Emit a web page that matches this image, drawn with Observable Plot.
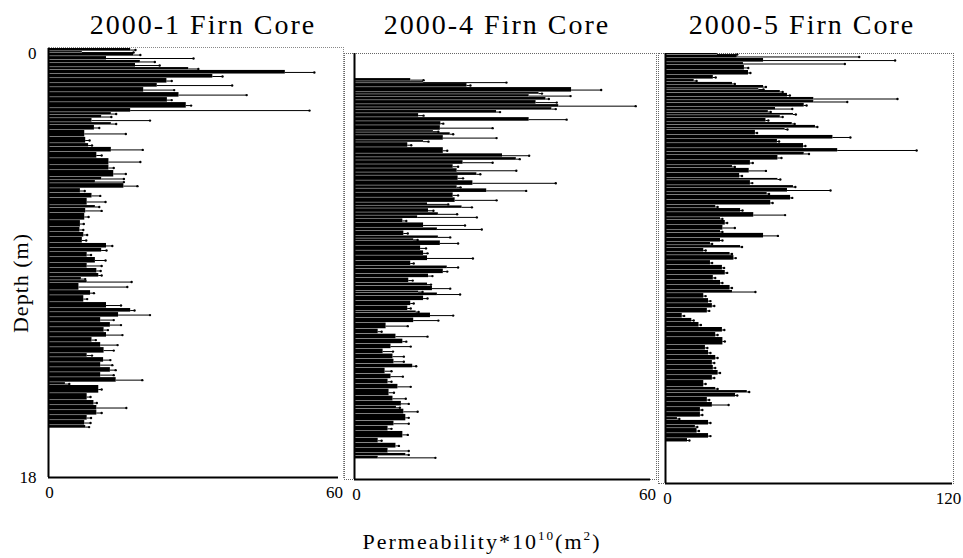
<!DOCTYPE html>
<html><head><meta charset="utf-8">
<script src="https://cdn.jsdelivr.net/npm/d3@7"></script>
<script src="https://cdn.jsdelivr.net/npm/@observablehq/plot@0.6"></script>
<style>
body{margin:0;background:#fff;}
#chart{position:relative;width:963px;height:558px;overflow:hidden;font-family:"Liberation Serif","Times New Roman",serif;color:#000;background:#fff;}
#chart svg{position:absolute;left:0;top:0;}
.t{position:absolute;white-space:nowrap;line-height:1;}
.frame{position:absolute;border:1px dotted #666;box-sizing:border-box;}
</style></head><body><div id="chart"></div>
<script>
// ---- Core titles / axis text ----
const titles = ["2000-1 Firn Core", "2000-4 Firn Core", "2000-5 Firn Core"];
const xMaxes = [60, 60, 120];
const depthTicks = [0, 18];

// ---- 2000-1 core: bar top depth (m), permeability, error-bar end ----
const core1Depth = [0,0.13,0.21,0.34,0.5,0.63,0.8,0.92,1.09,1.26,1.47,1.64,1.85,2.06,2.27,2.52,2.69,2.81,2.94,3.11,3.23,3.44,3.73,3.99,4.15,4.36,4.62,4.91,5.12,5.41,5.54,5.67,5.88,6.08,6.29,6.59,6.71,6.92,7.22,7.51,7.72,7.93,8.18,8.39,8.56,8.77,9.02,9.23,9.44,9.61,9.74,9.86,10.16,10.37,10.66,10.91,11.08,11.29,11.5,11.71,11.92,12.13,12.34,12.55,12.8,12.97,13.18,13.39,13.6,13.81,14.02,14.14,14.48,14.77,14.98,15.19,15.4,15.61,15.82];
const core1Bottom = 15.95;
const core1Perm = [17,7,17.6,12,19,18,29,49,34,24.5,22.5,19.7,27,24.6,28.5,17,13,11,9,13,9.5,7.5,7.7,8.3,13,10,12.5,12.5,13.5,11,9.7,15.6,6.6,9,8,9.7,7.7,7.5,6.6,6.5,7.3,7,12,11,8,9.7,8,10,10.4,6.8,8,6.3,8.7,7.3,12,17,14.5,10.8,12.8,11.5,12,9,10.8,11.5,8,11.4,10.8,12.8,10.8,14,3.5,10.4,8,9.4,10,10,8,7.5,7.7];
const core1Err = [18,17.6,19,30,22,23,31,55,36,25.5,38,26,41,25.5,29.5,54,14,13,21,14,10.5,16,8.5,9,19.5,11,19,13.5,16,15.6,15.6,18.4,7.5,10.7,11.8,10.5,11,8.3,7.3,7.2,8,7.8,13.2,12,8.8,11.8,11,10.8,11,7.6,17.2,16.3,9.4,8,15,17.8,21,13.5,15,12.3,15.3,9.8,14.3,13.5,9,12.8,13.2,13.9,13.5,19.4,4.3,11,8.7,10,16.1,11,8.8,8.7,8.4];

// ---- 2000-4 core ----
const core4Depth = [1.06,1.19,1.27,1.44,1.65,1.74,1.86,1.99,2.16,2.29,2.41,2.54,2.71,2.88,3.05,3.26,3.35,3.47,3.68,3.77,3.98,4.24,4.40,4.53,4.70,4.87,5.04,5.17,5.38,5.59,5.72,5.89,6.10,6.31,6.44,6.56,6.73,6.86,6.99,7.16,7.37,7.50,7.71,7.83,7.92,8.13,8.34,8.55,8.77,8.98,9.11,9.32,9.49,9.70,9.83,10.04,10.12,10.25,10.46,10.67,10.88,10.97,11.18,11.39,11.65,11.86,12.07,12.28,12.49,12.70,12.92,13.13,13.30,13.55,13.76,13.98,14.19,14.48,14.70,14.91,15.03,15.25,15.54,15.75,15.97,16.26,16.47,16.69,16.90,17.02];
const core4Bottom = 17.15;
const core4Perm = [11.4,14,22.8,44,37.4,35.4,38.8,36.8,41.4,40,28.8,13,35.4,17.5,17.4,16,19.4,18,14,10.8,18,30,32.8,22,20,20.8,24.8,21,24,20.8,26.8,20,20.4,14.8,21.8,15,17,12.8,9.8,14,16.8,10,17,12,17.4,13.4,14,14.8,11.4,18.8,18,15,11,14.8,15.8,13,16.8,14,11.4,10.8,12.5,15.4,12,6.4,4.8,8.4,9.8,7.4,5.8,7.8,8,11.8,6.2,7.4,6.8,8.8,7,7.8,9.5,8.5,10,10.4,8,6.8,9.8,4.8,8.4,6.8,10.4,4.8];
const core4Err = [14,30.8,23.5,50,38,43.8,39.4,41,57,40.8,29.5,14,43,18,28,17,20,28.8,15,11.5,18.8,35.4,33.5,28,21,32.8,25.5,22,40.8,21.5,34.8,21,28.8,19,23.8,16,20.8,24.8,10.5,22.4,25.8,10.8,19.4,12.8,21,14.5,14.8,24,12,21,18.8,15.8,11.8,15.5,19.4,13.8,21.4,14.8,12,11.4,13,20,17,10.8,5.5,14.8,10.5,11.4,7.8,10,10,12.5,7.5,9.8,7.5,11.4,8,10.4,11,9.2,12.8,11,11,7.5,10.8,5.5,9,11,11,16.4];

// ---- 2000-5 core ----
const core5Depth = [0,0.08,0.21,0.38,0.5,0.71,0.92,1.09,1.21,1.34,1.47,1.55,1.67,1.84,1.97,2.09,2.26,2.39,2.51,2.6,2.72,2.89,3.01,3.14,3.22,3.43,3.6,3.77,3.98,4.14,4.27,4.48,4.69,4.81,5.02,5.23,5.32,5.53,5.65,5.82,5.94,6.15,6.36,6.49,6.66,6.87,6.99,7.2,7.41,7.53,7.74,7.91,8.04,8.16,8.33,8.46,8.67,8.87,9.08,9.29,9.5,9.71,9.92,10.05,10.26,10.47,10.67,10.88,11.09,11.26,11.47,11.68,11.89,12.22,12.43,12.64,12.85,13.06,13.27,13.48,13.69,13.98,14.11,14.23,14.4,14.61,14.82,15.03,15.24,15.36,15.57,15.7,15.91,16.12];
const core5Bottom = 16.28;
const core5Perm = [21.7,30,41,32.6,33,34.7,20,12,28,41,39,48,51,62,62,58,46,43,53.5,48,42,53,62.7,50,37.6,70,46.8,57.7,72,58,47,35.5,28,35,31,47,35.5,53.5,51,42.5,52.3,44,21,31.4,36.9,23,25,24,23,41,23,18.8,31.4,16,27,28.6,18.8,23.8,25,20,23,27,28,16,18,19.6,17.5,7,11,14,23.8,21,24,16.7,18,21,19.6,20,22,19.6,16,21,34.2,29.3,17.5,19.6,14.6,14.6,5,18,12.5,13.2,18,9.2];
const core5Err = [30,81,96,75,34.6,35.5,21,13,29,42,41,49,52,97,76,59,53,44,54.5,49,43,54,63.5,51,38.3,77.3,47.5,58.5,105,60,48.5,36.5,29,42,32,48,36.3,54.3,69,43.3,53,44.8,21.8,32.2,50,23.8,25.8,29,23.8,47,23.8,19.5,32,16.8,27.8,29.4,19.5,24.5,25.8,20.8,23.8,27.8,37.6,16.8,18.8,20.4,18.3,7.8,11.8,14.8,24.6,21.8,24.8,17.5,18.8,21.8,20.4,20.8,22.8,20.4,16.8,21.8,35,30,18.3,26.4,15.4,15.4,5.8,18.8,13.3,14,18.8,10];

const FONT = '"Liberation Serif","Times New Roman",serif';
const W = 963, H = 558;
const TICK_FS = 17;

function rowsOf(depth, perm, err, bottom) {
  return depth.map((d, i) => ({
    d0: d, d1: i + 1 < depth.length ? depth[i + 1] : bottom, v: perm[i], e: err[i]
  }));
}

function panel(rows, xMax, m, showY, dx0, dxMax) {
  const marks = [
    Plot.rect(rows, {x1: d => 0, x2: "v", y1: "d0", y2: "d1", fill: "#000", insetBottom: 0.45}),
    Plot.ruleY(rows, {y: d => (d.d0 + d.d1) / 2, x1: "v", x2: "e", stroke: "#000", strokeWidth: 1}),
    Plot.dot(rows, {x: "e", y: d => (d.d0 + d.d1) / 2, r: 1.2, fill: "#000", stroke: "none"}),
    Plot.ruleX([0], {y1: 0, y2: 18, stroke: "#000", strokeWidth: 2}),
    Plot.ruleY([18], {stroke: "#000", strokeWidth: 2}),
    Plot.axisX({ticks: [0], tickSize: 0, tickPadding: 8, dx: dx0, fontSize: TICK_FS, tickFormat: d => String(d), label: null}),
    Plot.axisX({ticks: [xMax], tickSize: 0, tickPadding: 8, dx: dxMax, fontSize: TICK_FS, tickFormat: d => String(d), label: null})
  ];
  if (showY) {
    marks.push(Plot.axisY({ticks: [depthTicks[0]], tickSize: 0, tickPadding: 12, dy: 5, fontSize: TICK_FS, tickFormat: d => String(d), label: null}));
    marks.push(Plot.axisY({ticks: [depthTicks[1]], tickSize: 0, tickPadding: 12, fontSize: TICK_FS, tickFormat: d => String(d), label: null}));
  }
  return Plot.plot({
    width: W, height: H,
    marginLeft: m.l, marginRight: m.r, marginTop: m.t, marginBottom: m.b,
    style: {background: "transparent", fontFamily: FONT, fontSize: TICK_FS + "px", color: "#000", overflow: "visible"},
    x: {domain: [0, xMax]},
    y: showY ? {domain: [0, 18], reverse: true} : {domain: [0, 18], reverse: true, axis: null},
    marks
  });
}

const chart = document.getElementById("chart");

function addFrame(l, t, w, h, extra) {
  const f = document.createElement("div");
  f.className = "frame";
  Object.assign(f.style, {left: l + "px", top: t + "px", width: w + "px", height: h + "px"}, extra || {});
  chart.appendChild(f);
}
addFrame(48, 47, 296, 431, {borderLeft: "none", borderBottom: "none", borderColor: "#888"});
addFrame(344, 53, 313, 427);
addFrame(658, 53, 296, 431);

chart.appendChild(panel(rowsOf(core1Depth, core1Perm, core1Err, core1Bottom), xMaxes[0], {l: 48, r: W - 338, t: 48, b: H - 477}, true, 1, -4));
chart.appendChild(panel(rowsOf(core4Depth, core4Perm, core4Err, core4Bottom), xMaxes[1], {l: 354, r: W - 650, t: 53, b: H - 479}, false, 2, -3));
chart.appendChild(panel(rowsOf(core5Depth, core5Perm, core5Err, core5Bottom), xMaxes[2], {l: 665, r: W - 952, t: 53, b: H - 483}, false, 2, -4));

function addText(txt, x, y, size, extra) {
  const el = document.createElement("div");
  el.className = "t";
  el.innerHTML = txt;
  Object.assign(el.style, {left: x + "px", top: y + "px", fontSize: size + "px", transform: "translateX(-50%)"}, extra || {});
  chart.appendChild(el);
  return el;
}
const titleX = [203, 497, 802];
titles.forEach((t, i) => addText(t, titleX[i], 11, 28, {letterSpacing: "2px"}));
addText("Depth (m)", 21, 272, 22, {transform: "translate(-50%,0) rotate(-90deg)", letterSpacing: "1px"});
addText('Permeability*10<sup style="font-size:0.6em;vertical-align:0.7em">10</sup>(m<sup style="font-size:0.6em;vertical-align:0.7em">2</sup>)', 482, 529, 22, {letterSpacing: "2px"});
</script>
</body></html>
